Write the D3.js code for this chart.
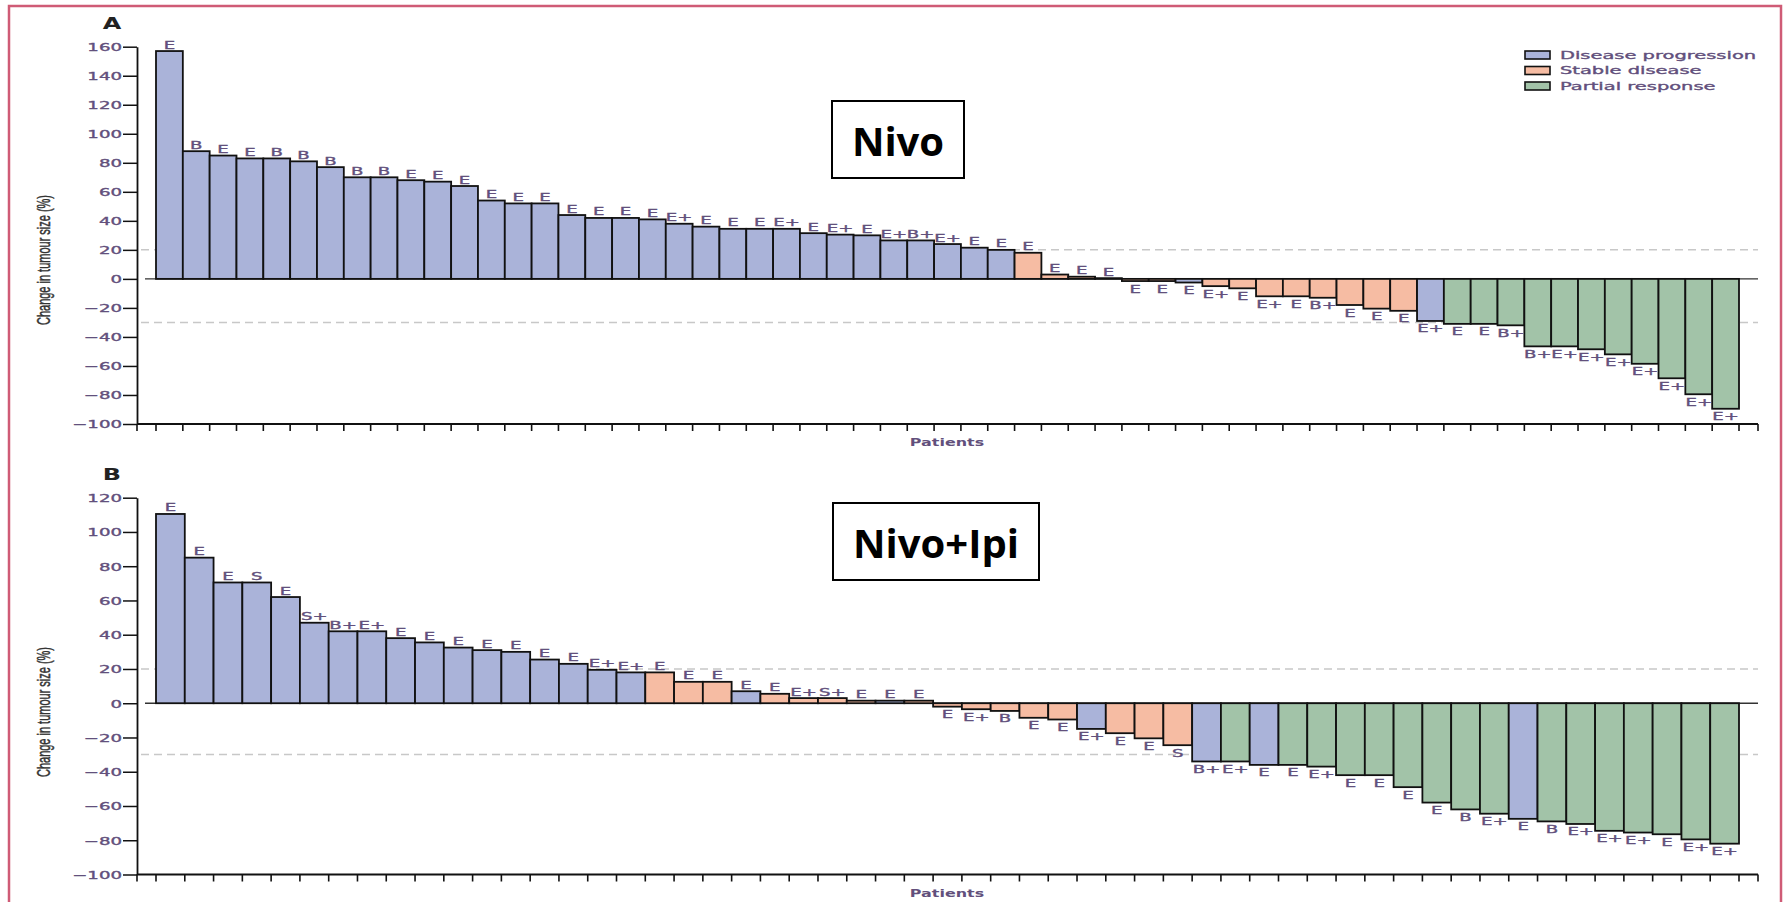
<!DOCTYPE html>
<html>
<head>
<meta charset="utf-8">
<script src="https://cdn.jsdelivr.net/npm/d3@7/dist/d3.min.js"></script>
<style>
    body { margin: 0; background: #fff; }
    svg { display: block; }
</style>
</head>
<body>
<svg id="chart" width="1785" height="902"></svg>
<script>
// response category per patient: PD = disease progression, SD = stable, PR = partial response
var legendKeys = ['PD', 'SD', 'PR'];
var legendNames = ['Disease progression', 'Stable disease', 'Partial response'];

// panel A, nivolumab
var valsA = [157, 88, 85, 83, 83, 81, 77, 70, 70, 68, 67, 64, 54, 52, 52, 44, 42, 42, 41, 38,
    36, 34.5, 34.5, 34.5, 31.5, 30.5, 30, 26.5, 26.5, 24, 21.5, 20, 18, 3, 1.5, 0.5, -1.5, -1.5, -2.5, -5,
    -6.5, -12, -12, -13, -18, -20.5, -22, -29, -31, -31, -32, -46.5, -46.5, -48.5, -52, -58.5, -68.5, -79.5, -89.5];
var respA = ['PD', 'PD', 'PD', 'PD', 'PD', 'PD', 'PD', 'PD', 'PD', 'PD', 'PD', 'PD', 'PD', 'PD', 'PD', 'PD', 'PD', 'PD', 'PD', 'PD',
    'PD', 'PD', 'PD', 'PD', 'PD', 'PD', 'PD', 'PD', 'PD', 'PD', 'PD', 'PD', 'SD', 'SD', 'SD', 'SD', 'SD', 'SD', 'PD', 'SD',
    'SD', 'SD', 'SD', 'SD', 'SD', 'SD', 'SD', 'PD', 'PR', 'PR', 'PR', 'PR', 'PR', 'PR', 'PR', 'PR', 'PR', 'PR', 'PR'];
var codesA = ['E', 'B', 'E', 'E', 'B', 'B', 'B', 'B', 'B', 'E', 'E', 'E', 'E', 'E', 'E', 'E', 'E', 'E', 'E', 'E+',
    'E', 'E', 'E', 'E+', 'E', 'E+', 'E', 'E+', 'B+', 'E+', 'E', 'E', 'E', 'E', 'E', 'E', 'E', 'E', 'E', 'E+',
    'E', 'E+', 'E', 'B+', 'E', 'E', 'E', 'E+', 'E', 'E', 'B+', 'B+', 'E+', 'E+', 'E+', 'E+', 'E+', 'E+', 'E+'];
var ticksA = [-100, -80, -60, -40, -20, 0, 20, 40, 60, 80, 100, 120, 140, 160];

// panel B, nivolumab plus ipilimumab
var valsB = [110.5, 85, 70.5, 70.5, 62, 47, 42, 42, 38, 35.5, 32.5, 31, 30, 25.5, 23, 19.5, 18, 18, 12.5, 12.5,
    7, 5.5, 3, 3, 1.5, 1.5, 1.5, -2, -3.5, -4.5, -8.5, -9.5, -15, -17.5, -20.5, -24.5, -34, -34, -36, -36,
    -37, -42, -42, -49, -58, -62, -64.5, -67.5, -69, -70.5, -74.5, -75.5, -76.5, -79.5, -82];
var respB = ['PD', 'PD', 'PD', 'PD', 'PD', 'PD', 'PD', 'PD', 'PD', 'PD', 'PD', 'PD', 'PD', 'PD', 'PD', 'PD', 'PD', 'SD', 'SD', 'SD',
    'PD', 'SD', 'SD', 'SD', 'SD', 'PD', 'SD', 'SD', 'SD', 'SD', 'SD', 'SD', 'PD', 'SD', 'SD', 'SD', 'PD', 'PR', 'PD', 'PR',
    'PR', 'PR', 'PR', 'PR', 'PR', 'PR', 'PR', 'PD', 'PR', 'PR', 'PR', 'PR', 'PR', 'PR', 'PR'];
var codesB = ['E', 'E', 'E', 'S', 'E', 'S+', 'B+', 'E+', 'E', 'E', 'E', 'E', 'E', 'E', 'E', 'E+', 'E+', 'E', 'E', 'E',
    'E', 'E', 'E+', 'S+', 'E', 'E', 'E', 'E', 'E+', 'B', 'E', 'E', 'E+', 'E', 'E', 'S', 'B+', 'E+', 'E', 'E',
    'E+', 'E', 'E', 'E', 'E', 'B', 'E+', 'E', 'B', 'E+', 'E+', 'E+', 'E', 'E+', 'E+'];
var ticksB = [-100, -80, -60, -40, -20, 0, 20, 40, 60, 80, 100, 120];

// thresholds drawn as dashed lines
var refLines = [20, -30];

var SX = 1.65;   // source figure is stretched sideways, text too
var FONT = 'DejaVu Sans, Verdana, sans-serif';
var INK = '#62507c';

var colour = d3.scaleOrdinal().domain(legendKeys).range(['#aab3d9', '#f6bca3', '#a2c3a8']);
var svg = d3.select('#chart');

svg.append('rect')
    .attr('x', 9).attr('y', 6)
    .attr('width', 1772).attr('height', 1000)
    .attr('fill', 'none')
    .attr('stroke', '#cf5b76')
    .attr('stroke-width', 2.5);

function wide(x, y, s) {
    return 'translate(' + x + ',' + y + ') scale(' + (s || SX) + ',1)';
}

// slightly heavier ink, the scan is blurry
function ink(sel) {
    sel.attr('fill', INK).attr('stroke', INK).attr('stroke-width', 0.35);
}

function panel(o) {
    var g = svg.append('g');
    var x0 = 137, x1 = 1758;
    var x = d3.scaleBand().domain(d3.range(o.vals.length)).range([156, 1739]).padding(0);
    var y = d3.scaleLinear()
        .domain([o.ticks[0], o.ticks[o.ticks.length - 1]])
        .range([o.bottom, o.top]);

    g.selectAll('line.ref').data(refLines).join('line')
        .attr('class', 'ref')
        .attr('x1', x0 + 4).attr('x2', x1)
        .attr('y1', function (d) { return y(d); })
        .attr('y2', function (d) { return y(d); })
        .attr('stroke', '#c8c8c8')
        .attr('stroke-width', 1.5)
        .attr('stroke-dasharray', '8,5');

    g.append('line')
        .attr('x1', x0 + 8).attr('x2', x1)
        .attr('y1', y(0)).attr('y2', y(0))
        .attr('stroke', '#333')
        .attr('stroke-width', 1.3);

    g.selectAll('rect.bar').data(o.vals).join('rect')
        .attr('class', 'bar')
        .attr('x', function (d, i) { return x(i); })
        .attr('width', x.bandwidth())
        .attr('y', function (d) { return y(Math.max(0, d)); })
        .attr('height', function (d) { return Math.abs(y(d) - y(0)); })
        .attr('fill', function (d, i) { return colour(o.resp[i]); })
        .attr('stroke', '#111')
        .attr('stroke-width', 1.8);

    g.selectAll('text.code').data(o.vals).join('text')
        .attr('class', 'code')
        .attr('transform', function (d, i) {
            var cx = x(i) + x.bandwidth() / 2;
            return wide(cx, d >= 0 ? y(d) - 2.5 : y(d) + 11.5);
        })
        .attr('text-anchor', 'middle')
        .attr('font-family', FONT)
        .attr('font-size', 11)
        .call(ink)
        .text(function (d, i) { return o.codes[i]; });

    // y axis
    var ay = g.append('g')
        .attr('transform', 'translate(' + x0 + ',0)')
        .call(d3.axisLeft(y).tickValues(o.ticks).tickSize(14).tickSizeOuter(0));
    ay.select('.domain').attr('stroke', '#111').attr('stroke-width', 1.8);
    ay.selectAll('.tick line').attr('stroke', '#111').attr('stroke-width', 1.5);
    ay.selectAll('.tick text')
        .attr('x', 0)
        .attr('dy', '0.36em')
        .attr('transform', 'translate(-15,0) scale(' + SX + ',1)')
        .attr('font-family', FONT)
        .attr('font-size', 11)
        .call(ink);

    // x axis, one tick at each bar edge
    var yb = y(o.ticks[0]);
    g.append('line')
        .attr('x1', x0).attr('x2', x1)
        .attr('y1', yb).attr('y2', yb)
        .attr('stroke', '#111')
        .attr('stroke-width', 1.8);
    var edges = [x0].concat(x.domain().map(function (i) { return x(i); }), [x.range()[1], x1]);
    g.selectAll('line.xt').data(edges).join('line')
        .attr('class', 'xt')
        .attr('x1', function (d) { return d; })
        .attr('x2', function (d) { return d; })
        .attr('y1', yb).attr('y2', yb + 7)
        .attr('stroke', '#111')
        .attr('stroke-width', 1.6);

    g.append('text')
        .attr('transform', wide(947, yb + 22, 1.45))
        .attr('text-anchor', 'middle')
        .attr('font-family', FONT)
        .attr('font-weight', 'bold')
        .attr('font-size', 11)
        .attr('fill', INK)
        .text('Patients');

    g.append('text')
        .attr('transform', 'translate(50,' + o.titleY + ') scale(' + SX + ',1) rotate(-90)')
        .attr('text-anchor', 'middle')
        .attr('font-family', 'Liberation Sans Narrow, Liberation Sans, sans-serif')
        .attr('font-size', 11.5)
        .attr('textLength', 130)
        .attr('lengthAdjust', 'spacingAndGlyphs')
        .attr('fill', '#333')
        .attr('stroke', '#333')
        .attr('stroke-width', 0.3)
        .text('Change in tumour size (%)');

    g.append('text')
        .attr('transform', wide(112, o.top - 17.5, 1.6))
        .attr('text-anchor', 'middle')
        .attr('font-family', FONT)
        .attr('font-weight', 'bold')
        .attr('font-size', 15)
        .attr('fill', '#222')
        .text(o.letter);

    // treatment name box
    var b = o.box;
    g.append('rect')
        .attr('x', b[0]).attr('y', b[1])
        .attr('width', b[2]).attr('height', b[3])
        .attr('fill', '#fff')
        .attr('stroke', '#000')
        .attr('stroke-width', 2);
    g.append('text')
        .attr('x', b[0] + b[2] / 2)
        .attr('y', b[1] + 55)
        .attr('text-anchor', 'middle')
        .attr('font-family', 'Open Sans, sans-serif')
        .attr('font-weight', 'bold')
        .attr('font-size', 40)
        .attr('fill', '#000')
        .text(o.name);
}

panel({ vals: valsA, resp: respA, codes: codesA, ticks: ticksA, top: 46.7, bottom: 424,
    titleY: 260, letter: 'A', name: 'Nivo', box: [832, 101, 132, 77] });
panel({ vals: valsB, resp: respB, codes: codesB, ticks: ticksB, top: 497.7, bottom: 874.5,
    titleY: 712, letter: 'B', name: 'Nivo+Ipi', box: [833, 503, 206, 77] });

// legend
var lg = svg.append('g').attr('transform', 'translate(1525,51)');
var item = lg.selectAll('g').data(legendKeys).join('g')
    .attr('transform', function (d, i) { return 'translate(0,' + i * 15.5 + ')'; });
item.append('rect')
    .attr('width', 25).attr('height', 8)
    .attr('fill', function (d) { return colour(d); })
    .attr('stroke', '#111')
    .attr('stroke-width', 1.6);
item.append('text')
    .attr('transform', wide(35, 7.8, 1.8))
    .attr('font-family', FONT)
    .attr('font-size', 10.8)
    .call(ink)
    .text(function (d, i) { return legendNames[i]; });
</script>
</body>
</html>
